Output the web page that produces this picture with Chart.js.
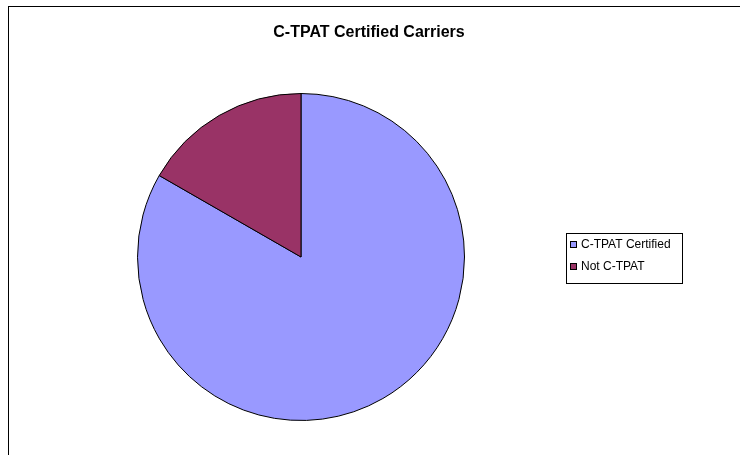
<!DOCTYPE html>
<html>
<head>
<meta charset="utf-8">
<script src="https://cdn.jsdelivr.net/npm/chart.js@4/dist/chart.umd.min.js"></script>
<style>
    body { margin: 0; background: #fff; }
    #wrap { position: relative; width: 740px; height: 455px; overflow: hidden; }
    #frame {
        position: absolute; left: 8px; top: 6px; right: -2px; bottom: -2px;
        border-top: 1px solid #000; border-left: 1px solid #000;
    }
    #chart { position: absolute; left: 0; top: 0; }
</style>
</head>
<body>
<div id="wrap">
    <div id="frame"></div>
    <canvas id="chart" width="740" height="455"></canvas>
</div>
<script>
    const chartTitle = 'C-TPAT Certified Carriers';
    const categories = ['C-TPAT Certified', 'Not C-TPAT'];
    const shares = [83.3, 16.7];
    const sliceColors = ['#9999FF', '#993366'];

    // Title centred on the whole frame, not on the pie
    const frameTitle = {
        id: 'frameTitle',
        afterDraw(chart) {
            const ctx = chart.ctx;
            ctx.save();
            ctx.font = 'bold 16px "Liberation Sans", Arial, sans-serif';
            ctx.fillStyle = '#000';
            ctx.textAlign = 'center';
            ctx.textBaseline = 'middle';
            ctx.fillText(chartTitle, 369, 33);
            ctx.restore();
        }
    };

    // Excel-style boxed legend on the right
    const boxLegend = {
        id: 'boxLegend',
        afterDraw(chart) {
            const ctx = chart.ctx;
            const ds = chart.data.datasets[0];
            const x = 566, y = 233, w = 116, h = 50;
            ctx.save();
            ctx.strokeStyle = '#000';
            ctx.lineWidth = 1;
            ctx.strokeRect(x + 0.5, y + 0.5, w, h);
            ctx.font = '12px "Liberation Sans", Arial, sans-serif';
            ctx.textBaseline = 'middle';
            chart.data.labels.forEach((label, i) => {
                const cy = y + 11 + i * 22;
                ctx.fillStyle = ds.backgroundColor[i];
                ctx.fillRect(x + 4, cy - 3, 7, 7);
                ctx.strokeRect(x + 4.5, cy - 2.5, 6, 6);
                ctx.fillStyle = '#000';
                ctx.fillText(label, x + 15, cy + 1);
            });
            ctx.restore();
        }
    };

    new Chart(document.getElementById('chart'), {
        type: 'pie',
        data: {
            labels: categories,
            datasets: [{
                data: shares,
                backgroundColor: sliceColors,
                borderColor: '#000',
                borderWidth: 1
            }]
        },
        options: {
            responsive: false,
            animation: false,
            layout: {
                padding: { left: 137, right: 275, top: 93, bottom: 34 }
            },
            plugins: {
                legend: { display: false },
                tooltip: { enabled: false },
                title: { display: false }
            }
        },
        plugins: [frameTitle, boxLegend]
    });
</script>
</body>
</html>
